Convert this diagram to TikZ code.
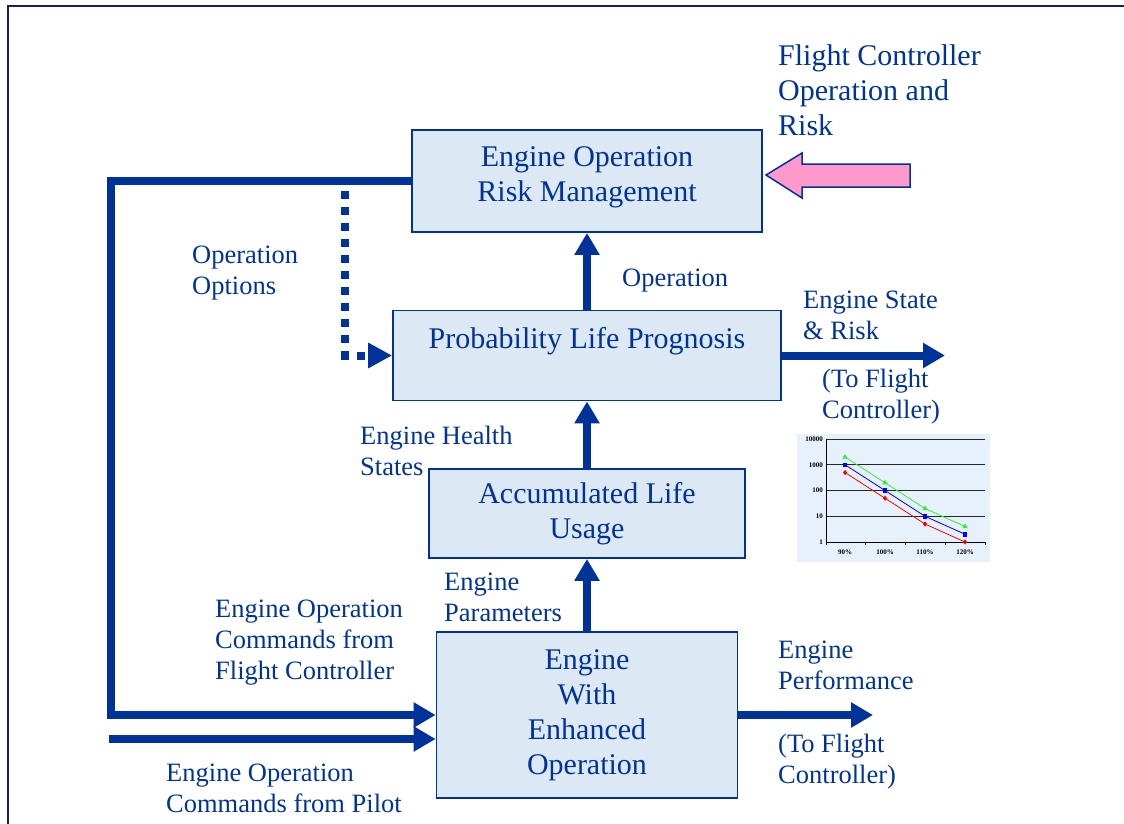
\documentclass[tikz,border=0pt]{standalone}
\usepackage{fontspec}
\setmainfont{Liberation Serif}
\usetikzlibrary{arrows.meta,plotmarks}
\definecolor{navy}{HTML}{003399}
\definecolor{boxfill}{HTML}{DCE9F5}
\definecolor{framecol}{HTML}{1A1A75}
\definecolor{pinkfill}{HTML}{FF99CC}
\definecolor{chartbg}{HTML}{E6F1FB}
\definecolor{linegreen}{HTML}{33EE33}

\begin{document}
\begin{tikzpicture}[x=1pt, y=-1pt,
    blockbox/.style={draw=navy, line width=1.8pt, fill=boxfill, text=navy, align=center,
      inner sep=0pt, font=\fontsize{30}{35}\selectfont},
    lbl/.style={text=navy, align=left, anchor=west, inner sep=0pt,
      font=\fontsize{26.5}{31}\selectfont},
    flow/.style={draw=navy, line width=8pt, -{Triangle[width=24pt,length=22pt]}},
    dotflow/.style={draw=navy, line width=8pt, dash pattern=on 8pt off 8pt,
      -{Triangle[width=24pt,length=24pt]}}]
    \useasboundingbox (0,0) rectangle (1124,824);
    \draw[framecol, line width=2pt] (8,824) -- (8,6) -- (1124,6);

    \node[blockbox, minimum width=350pt, minimum height=102pt, text depth=14.6pt] (riskmgmt) at (587,181) {Engine Operation\\Risk Management};
    \node[blockbox, minimum width=388pt, minimum height=90pt] (prognosis) at (587,355.5) {Probability Life Prognosis\\\mbox{}};
    \node[blockbox, minimum width=316pt, minimum height=89pt] (lifeusage) at (587,513.5) {Accumulated Life\\Usage};
    \node[blockbox, minimum width=301pt, minimum height=166pt] (engine) at (587,715) {Engine\\With\\Enhanced\\Operation};

    \coordinate (stateout) at (945,355.5);
    \coordinate (perfout) at (873,715);
    \coordinate (loopcorner) at (111,181);
    \coordinate (pilotin) at (109,739);
    \coordinate (optstart) at (345,191);

    \draw[flow] (engine) -- (lifeusage);
    \draw[flow] (lifeusage) -- (prognosis);
    \draw[flow] (prognosis) -- (riskmgmt);
    \draw[flow] (prognosis) -- (stateout);
    \draw[flow] (engine) -- (perfout);
    \draw[flow] (riskmgmt.west) -- (loopcorner) |- (engine.west);
    \draw[flow] (pilotin) -- (pilotin -| engine.west);
    \draw[dotflow] (optstart) |- (prognosis.west);

    % input from the flight controller
    \draw[navy, line width=1.5pt, fill=pinkfill] (766,175) -- (802,153) -- (802,164) -- (910,164)
      -- (910,187) -- (802,187) -- (802,198) -- cycle;

    \node[lbl, font=\fontsize{30}{35}\selectfont] (fcrisk) at (778,90) {Flight Controller\\Operation and\\Risk};
    \node[lbl] (optlbl) at (192,273.5) {Operation\\Options};
    \node[lbl] (oplbl) at (622,281) {Operation};
    \node[lbl] (statelbl) at (803,315) {Engine State\\\& Risk};
    \node[lbl] (tofc1) at (822,397) {(To Flight\\Controller)};
    \node[lbl] (healthlbl) at (360,451) {Engine Health\\States};
    \node[lbl] (paramlbl) at (444,597.5) {Engine\\Parameters};
    \node[lbl] (fccmd) at (215,643) {Engine Operation\\Commands from\\Flight Controller};
    \node[lbl] (perflbl) at (778,665.5) {Engine\\Performance};
    \node[lbl] (tofc2) at (778,762) {(To Flight\\Controller)};
    \node[lbl] (pilotcmd) at (166,788) {Engine Operation\\Commands from Pilot};

    % small life chart
    \begin{scope}[shift={(826,542)}, x=1pt, y=1pt, font=\fontsize{7}{8}\selectfont\bfseries]
      \fill[chartbg] (-29,-20) rectangle (164,108);
      \foreach \k in {1,...,4}
        \draw[black!85, line width=0.8pt] (0,25.75*\k) -- (159,25.75*\k);
      \draw[black, line width=0.8pt] (0,103) -- (0,0) -- (159,0);
      \foreach \i in {0,...,4}
        \draw[black, line width=0.6pt] (39.75*\i,0) -- (39.75*\i,-3);
      \foreach \k/\v in {0/1,1/10,2/100,3/1000,4/10000}
        \node[anchor=east, inner sep=0pt] (ytick\k) at (-3,25.75*\k) {\v};
      \foreach \i/\p in {0/90,1/100,2/110,3/120}
        \node[inner sep=0pt] (xtick\i) at (19+40*\i,-10) {\p\%};
      \draw[linegreen, line width=0.8pt] plot[mark=triangle*, mark size=2.2pt]
        coordinates {(19,85) (59,59.25) (99,33.5) (139,15.5)};
      \draw[blue, line width=0.8pt] plot[mark=square*, mark size=1.8pt]
        coordinates {(19,77.25) (59,51.5) (99,25.75) (139,7.75)};
      \draw[red, line width=0.8pt] plot[mark=diamond*, mark size=2pt]
        coordinates {(19,69.5) (59,43.75) (99,18) (139,0)};
    \end{scope}
\end{tikzpicture}
\end{document}
